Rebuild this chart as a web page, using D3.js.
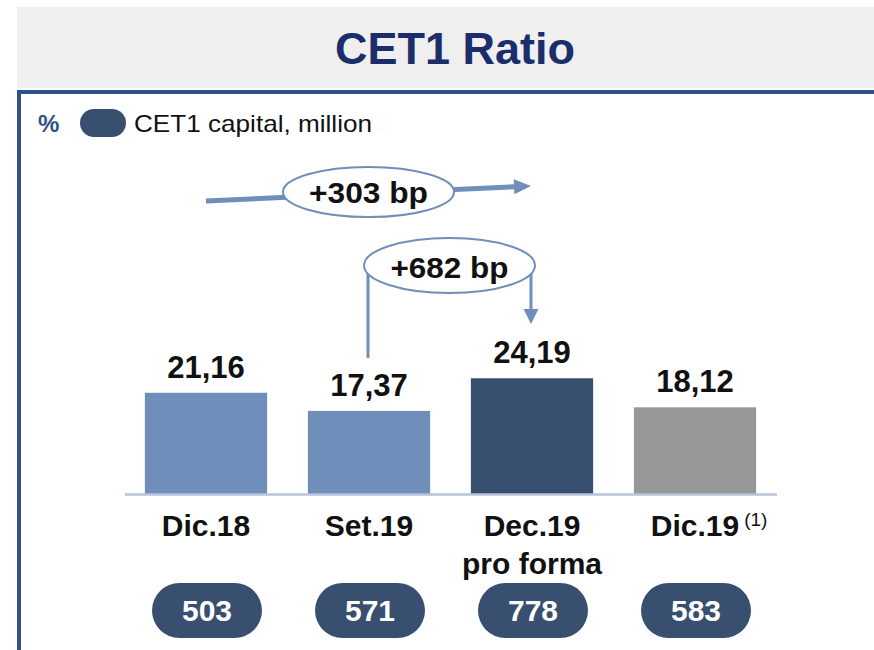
<!DOCTYPE html>
<html>
<head>
<meta charset="utf-8">
<script src="https://cdn.jsdelivr.net/npm/d3@7"></script>
<style>
  html, body { margin: 0; padding: 0; background: #ffffff; }
  svg { display: block; font-family: "Liberation Sans", Arial, sans-serif; }
</style>
</head>
<body>
<svg id="chart" width="874" height="650"></svg>
<script>
// ---- data ----
const categories = ["Dic.18", "Set.19", "Dec.19 pro forma", "Dic.19"];
const categoryLines = [["Dic.18"], ["Set.19"], ["Dec.19", "pro forma"], ["Dic.19"]];
const categoryNotes = ["", "", "", "(1)"];
const ratioValues = [21.16, 17.37, 24.19, 18.12];
const ratioLabels = ["21,16", "17,37", "24,19", "18,12"];
const capitalValues = [503, 571, 778, 583];
const changeFrom = [0, 1];
const changeTo = [2, 2];
const changeLabels = ["+303 bp", "+682 bp"];
const titleText = "CET1 Ratio";
const legendText = "CET1 capital, million";
const unitText = "%";

// ---- styles ----
const barColors = ["#6f8eba", "#6f8eba", "#394f6f", "#979797"];
const accent = "#6f8eba";
const navy = "#394f6f";

const svg = d3.select("#chart");

// title box
svg.append("rect").attr("x", 17).attr("y", 7).attr("width", 857).attr("height", 81).attr("fill", "#efefef");
svg.append("text").attr("x", 455).attr("y", 64).attr("text-anchor", "middle")
  .attr("font-size", 45).attr("font-weight", "bold").attr("fill", "#1b2d6b").text(titleText);

// frame
svg.append("path").attr("d", "M19,650 V92 H874").attr("fill", "none").attr("stroke", "#2e5286").attr("stroke-width", 4);

// legend
svg.append("text").attr("x", 38).attr("y", 132).attr("font-size", 24).attr("font-weight", "bold")
  .attr("fill", "#2e5286").text(unitText);
svg.append("rect").attr("x", 80).attr("y", 109).attr("width", 46).attr("height", 28).attr("rx", 14).attr("fill", navy);
svg.append("text").attr("x", 134).attr("y", 132).attr("font-size", 24).attr("fill", "#111")
  .attr("textLength", 238).attr("lengthAdjust", "spacingAndGlyphs").text(legendText);

// scales
const x = d3.scaleBand().domain(categories).range([124.5, 776.5]).paddingInner(0.25).paddingOuter(0.125);
const y = d3.scaleLinear().domain([0, 25]).range([494, 494 - 119.6]);
const cx = i => x(categories[i]) + x.bandwidth() / 2;

// bars
svg.append("g").selectAll("rect").data(ratioValues).join("rect")
  .attr("x", (d, i) => x(categories[i]))
  .attr("y", d => y(d))
  .attr("width", x.bandwidth())
  .attr("height", d => y(0) - y(d))
  .attr("fill", (d, i) => barColors[i]);

// baseline axis
const axisG = svg.append("g").attr("transform", `translate(0,${y(0)})`)
  .call(d3.axisBottom(x).tickSize(0).tickFormat(""));
axisG.select(".domain").attr("stroke", "#b7c3dc").attr("stroke-width", 2.5);

// value labels
svg.append("g").selectAll("text").data(ratioValues).join("text")
  .attr("x", (d, i) => cx(i))
  .attr("y", d => y(d) - 15)
  .attr("text-anchor", "middle").attr("font-size", 31).attr("font-weight", "bold").attr("fill", "#111")
  .text((d, i) => ratioLabels[i]);

// category labels
categoryLines.forEach((lines, i) => {
  const t = svg.append("text").attr("x", cx(i)).attr("y", 536).attr("text-anchor", "middle")
    .attr("font-size", 30).attr("font-weight", "bold").attr("fill", "#111");
  lines.forEach((ln, j) => t.append("tspan").attr("x", cx(i)).attr("dy", j === 0 ? 0 : 38).text(ln));
  if (categoryNotes[i]) {
    const w = t.node().getComputedTextLength();
    svg.append("text").attr("x", cx(i) + w / 2 + 5).attr("y", 526).attr("font-size", 19)
      .attr("fill", "#111").text(categoryNotes[i]);
  }
});

// capital pills
const pills = svg.append("g").selectAll("g").data(capitalValues).join("g")
  .attr("transform", (d, i) => `translate(${cx(i) + 1},610)`);
pills.append("rect").attr("x", -55).attr("y", -27).attr("width", 110).attr("height", 55).attr("rx", 27.5)
  .attr("fill", navy);
pills.append("text").attr("y", 11).attr("text-anchor", "middle").attr("font-size", 30)
  .attr("font-weight", "bold").attr("fill", "#fff").text(d => d);

// change annotation 1 (+303 bp): sloped arrow
{
  const x0 = cx(changeFrom[0]), x1 = cx(changeTo[0]) - 1;
  const y0 = 201, y1 = 186;
  const ang = Math.atan2(y1 - y0, x1 - x0);
  const L = 17, H = 7.5;
  const bx = x1 - L * Math.cos(ang), by = y1 - L * Math.sin(ang);
  svg.append("line").attr("x1", x0).attr("y1", y0).attr("x2", bx + 1).attr("y2", by)
    .attr("stroke", accent).attr("stroke-width", 5);
  svg.append("path")
    .attr("d", `M${x1},${y1} L${bx - H * Math.sin(ang)},${by + H * Math.cos(ang)} L${bx + H * Math.sin(ang)},${by - H * Math.cos(ang)} Z`)
    .attr("fill", accent);
  const mx = (x0 + x1) / 2;
  svg.append("ellipse").attr("cx", mx).attr("cy", 192).attr("rx", 85.5).attr("ry", 25)
    .attr("fill", "#fff").attr("stroke", accent).attr("stroke-width", 2);
  svg.append("text").attr("x", mx).attr("y", 203).attr("text-anchor", "middle").attr("font-size", 30)
    .attr("font-weight", "bold").attr("fill", "#111")
    .attr("textLength", 119).attr("lengthAdjust", "spacingAndGlyphs").text(changeLabels[0]);
}

// change annotation 2 (+682 bp): bracket arrow
{
  const xa = cx(changeFrom[1]) - 1, xb = cx(changeTo[1]) - 1;
  svg.append("path").attr("d", `M${xa},358 V272 M${xb},272 V310`).attr("fill", "none")
    .attr("stroke", accent).attr("stroke-width", 3);
  svg.append("path").attr("d", `M${xb},324 L${xb - 7.5},309 L${xb + 7.5},309 Z`).attr("fill", accent);
  const mx = (xa + xb) / 2;
  svg.append("ellipse").attr("cx", mx).attr("cy", 265.5).attr("rx", 85.5).attr("ry", 27.5)
    .attr("fill", "#fff").attr("stroke", accent).attr("stroke-width", 2);
  svg.append("text").attr("x", mx).attr("y", 278).attr("text-anchor", "middle").attr("font-size", 30)
    .attr("font-weight", "bold").attr("fill", "#111")
    .attr("textLength", 118).attr("lengthAdjust", "spacingAndGlyphs").text(changeLabels[1]);
}
</script>
</body>
</html>
